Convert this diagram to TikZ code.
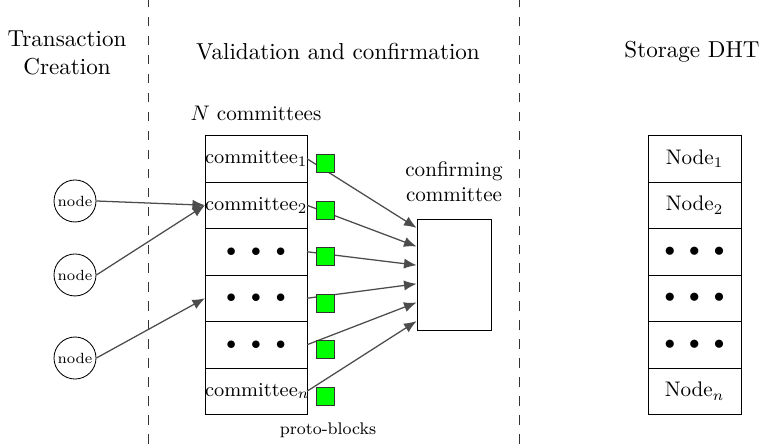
\documentclass[tikz,border=0pt]{standalone}
\usetikzlibrary{positioning,arrows.meta,calc}

\tikzset{
	head/.style={font=\fontsize{10.95}{13.6}\selectfont, align=center},
	cbox/.style={draw, text width=1.7cm, align=center, minimum height=0.775cm, inner sep=0pt, outer sep=0pt, font=\fontsize{9.4}{11}\selectfont},
	sbox/.style={draw, minimum width=1.55cm, minimum height=0.775cm, inner sep=0pt, outer sep=0pt},
	txnode/.style={draw, circle, minimum size=0.7cm, inner sep=0pt, font=\scriptsize},
	block/.style={draw=black!80, fill=green, minimum size=0.3cm, inner sep=0pt},
	link/.style={black!70, line width=0.6pt, -{Latex[length=2.1mm,width=1.7mm]}},
	sep/.style={dash pattern=on 4.6pt off 4.4pt, black!80}
}
\newcommand{\threedots}{$\bullet\hspace{4.5pt}\bullet\hspace{4.5pt}\bullet$}

\begin{document}
\begin{tikzpicture}
		\useasboundingbox (0,0) rectangle (12.8,7.4);

		% column separators
		\draw[sep] (2.467,0) -- (2.467,7.4);
		\draw[sep] (8.65,0) -- (8.65,7.4);

		% column titles
		\node[head] (ttx) at (1.117,6.517) {Transaction\\Creation};
		\node[head] (tval) at (5.633,6.533) {Validation and confirmation};
		\node[head] (tdht) at (11.533,6.533) {Storage DHT};

		% committees
		\node (ncom) at (4.267,5.517) {$N$ committees};
		\node[cbox] (c1) at (4.267,4.754) {committee$_1$};
		\node[cbox, below=0pt of c1] (c2) {committee$_2$};
		\node[cbox, below=0pt of c2] (c3) {\threedots};
		\node[cbox, below=0pt of c3] (c4) {\threedots};
		\node[cbox, below=0pt of c4] (c5) {\threedots};
		\node[cbox, below=0pt of c5] (c6) {committee$_n$};

		% confirming committee
		\node[draw, minimum width=1.233cm, minimum height=1.85cm] (cc) at (7.567,2.825) {};
		\node[align=center] (cclab) at (7.567,4.367) {confirming\\committee};

		% transaction nodes
		\node[txnode] (n1) at (1.25,4.05) {node};
		\node[txnode] (n2) at (1.25,2.817) {node};
		\node[txnode] (n3) at (1.25,1.433) {node};

		\draw[link] (n1.east) -- (c2.west);
		\draw[link] (n2.east) -- (c2.west);
		\draw[link] (n3.east) -- (c4.west);

		\foreach \i in {1,...,6}
			\draw[link] (c\i.east) -- ($(cc.north west)!{(\i-0.5)/6}!(cc.south west)$);

		% proto-blocks
		\foreach \i in {1,...,6}
			\node[block] (pb\i) at (5.417,{4.675-0.775*(\i-1)}) {};
		\node[font=\footnotesize] (pblab) at (5.467,0.233) {proto-blocks};

		% storage
		\node[sbox] (s1) at (11.575,4.754) {Node$_1$};
		\node[sbox, below=0pt of s1] (s2) {Node$_2$};
		\node[sbox, below=0pt of s2] (s3) {\threedots};
		\node[sbox, below=0pt of s3] (s4) {\threedots};
		\node[sbox, below=0pt of s4] (s5) {\threedots};
		\node[sbox, below=0pt of s5] (s6) {Node$_n$};
	\end{tikzpicture}
\end{document}
